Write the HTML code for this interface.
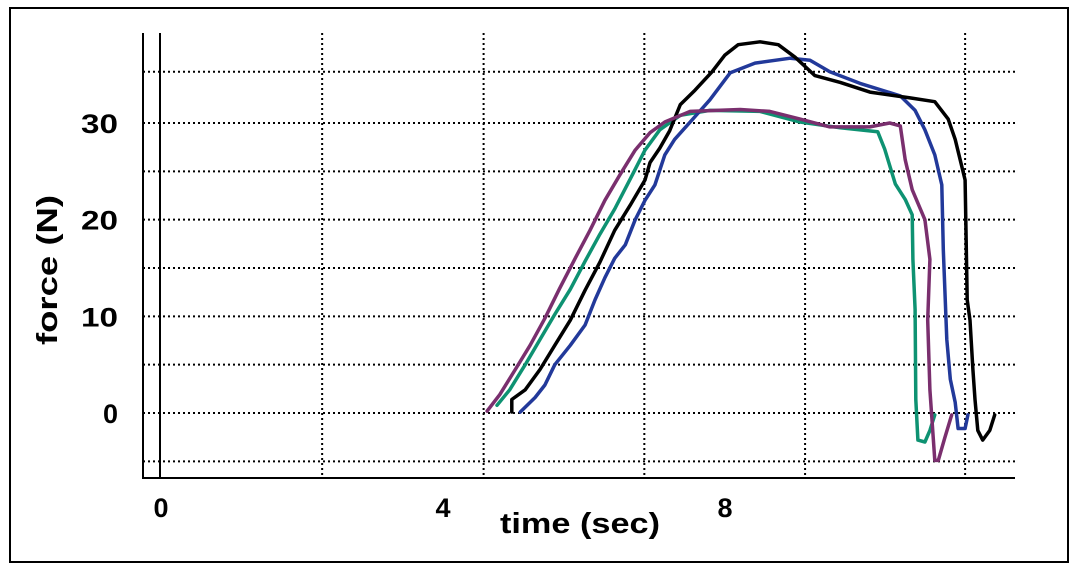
<!DOCTYPE html>
<html><head><meta charset="utf-8"><style>
html,body{margin:0;padding:0;background:#fff}
svg{display:block;font-family:"Liberation Sans",Arial,sans-serif}
</style></head><body>
<svg id="chart" width="1078" height="571" viewBox="0 0 1078 571">
<rect x="10" y="8" width="1058" height="554" fill="#fff" stroke="#000" stroke-width="2"/>
<g id="grid"></g>
<g id="axes"></g>
<g id="series"></g>
<g id="labels"></g>
</svg>
<script>
const yTicks=[0,10,20,30];
const yTickLabels=["0","10","20","30"];
const xTicks=[0,4,8];
const xTickLabels=["0","4","8"];
const yGrid=[-5,0,5,10,15,20,25,30,35.3];
const xGrid=[2.3,4.59,6.87,9.15,11.42];
const greenT=[4.78,4.96,5.18,5.39,5.60,5.82,6.03,6.24,6.45,6.67,6.88,7.09,7.38,7.80,8.51,9.08,9.65,10.18,10.28,10.43,10.57,10.67,10.68,10.71,10.72,10.75,10.85,10.92,10.99];
const greenF=[0.8,2.4,5.0,7.6,10.2,12.8,15.7,18.5,21.1,24.2,27.2,29.3,30.8,31.3,31.2,30.1,29.5,29.1,27.3,23.7,22.1,20.5,15.9,10.7,1.4,-2.8,-3.0,-1.8,-0.2];
const purpleT=[4.64,4.82,5.04,5.25,5.46,5.67,5.89,6.10,6.31,6.52,6.74,6.95,7.16,7.52,8.23,8.65,9.08,9.50,10.07,10.35,10.50,10.57,10.67,10.85,10.92,10.89,10.92,10.99,11.04,11.13,11.23];
const purpleF=[0.2,1.9,4.5,7.0,9.8,12.9,16.0,18.9,22.0,24.6,27.2,29.0,30.1,31.2,31.4,31.2,30.4,29.6,29.6,30.0,29.7,26.2,23.1,20.0,15.9,9.6,2.4,-4.9,-4.9,-2.6,-0.2];
const blackT=[4.99,4.99,5.18,5.39,5.60,5.82,6.03,6.24,6.45,6.67,6.88,6.95,7.09,7.23,7.38,7.59,7.83,8.01,8.20,8.51,8.77,9.01,9.29,9.65,10.07,10.64,10.99,11.18,11.28,11.42,11.45,11.49,11.53,11.56,11.60,11.67,11.77,11.84];
const blackF=[0.1,1.4,2.4,4.5,7.0,9.6,12.7,15.6,18.9,21.5,24.1,25.9,27.4,29.2,31.9,33.4,35.3,37.0,38.1,38.4,38.1,36.8,34.9,34.2,33.2,32.6,32.2,30.4,28.3,24.1,11.7,9.6,4.5,1.4,-1.8,-2.8,-1.8,-0.2];
const blueT=[5.11,5.32,5.46,5.60,5.82,6.03,6.17,6.31,6.45,6.60,6.74,6.88,7.02,7.16,7.30,7.52,7.80,8.09,8.44,8.94,9.22,9.50,9.93,10.50,10.71,10.85,10.99,11.09,11.11,11.16,11.21,11.28,11.32,11.42,11.46];
const blueF=[0.1,1.6,2.9,5.0,7.0,9.1,11.7,14.0,16.0,17.4,20.0,22.0,23.6,26.7,28.3,30.1,32.4,35.2,36.2,36.7,36.5,35.3,34.1,32.8,31.3,29.3,26.7,23.6,16.9,7.6,3.5,1.1,-1.6,-1.6,-0.2];

const NS="http://www.w3.org/2000/svg";
const X=t=>160+t*70.5;
const Y=f=>413-f*9.667;
function mk(tag,attrs,parent,text){const e=document.createElementNS(NS,tag);for(const k in attrs)e.setAttribute(k,attrs[k]);if(text!==undefined)e.textContent=text;document.getElementById(parent).appendChild(e);return e;}
yGrid.forEach(v=>{const e=mk('line',{x1:143,x2:1015,y1:Y(v),y2:Y(v),stroke:'#000','stroke-width':2,'stroke-dasharray':'2 3'},'grid');

});
xGrid.forEach(v=>{const e=mk('line',{x1:X(v),x2:X(v),y1:33,y2:478,stroke:'#000','stroke-width':2,'stroke-dasharray':'2 3'},'grid');

});
[[143,33,143,478],[160,33,160,478],[142,478,1015,478]].forEach(a=>{const e=mk('line',{x1:a[0],y1:a[1],x2:a[2],y2:a[3],stroke:'#000','stroke-width':2},'axes');

});
function series(T,F,color,name){const d=T.map((t,i)=>(i?'L':'M')+X(t).toFixed(1)+','+Y(F[i]).toFixed(1)).join(' ');
const e=mk('path',{d:d,fill:'none',stroke:color,'stroke-width':3.5,'stroke-linejoin':'round','stroke-linecap':'round'},'series');

}
series(greenT,greenF,'#0e9272','series-green');
series(blueT,blueF,'#22399a','series-blue');
series(blackT,blackF,'#000','series-black');
series(purpleT,purpleF,'#7a2f6e','series-purple');
yTicks.forEach((v,i)=>{const s=yTickLabels[i];const a={x:118,y:Y(v)+10,'text-anchor':'end','font-size':27,'font-weight':'bold'};
if(s.length>1){a.textLength=37;a.lengthAdjust='spacingAndGlyphs';}
const e=mk('text',a,'labels',s);

});
xTicks.forEach((v,i)=>{const e=mk('text',{x:X(v)+1,y:517,'text-anchor':'middle','font-size':27,'font-weight':'bold'},'labels',xTickLabels[i]);

});
let e=mk('text',{x:500,y:533,'font-size':29,'font-weight':'bold',textLength:160,lengthAdjust:'spacingAndGlyphs'},'labels','time (sec)');


e=mk('text',{x:-75,y:0,'font-size':29,'font-weight':'bold',textLength:150,lengthAdjust:'spacingAndGlyphs',transform:'translate(57,270) rotate(-90)'},'labels','force (N)');


</script>
</body></html>
